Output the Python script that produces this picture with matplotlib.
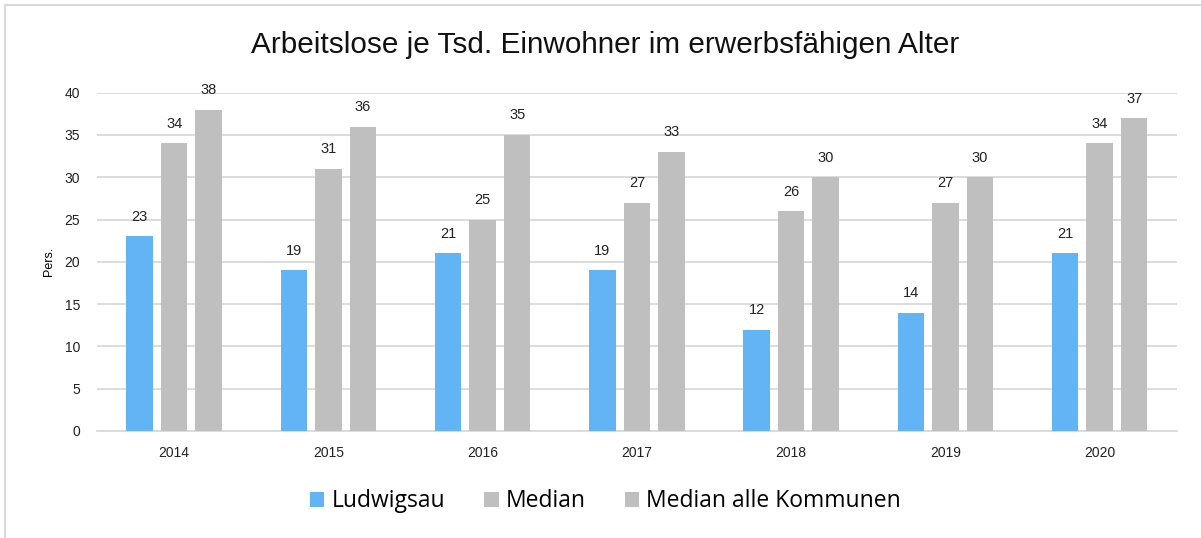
import numpy as np
import matplotlib.pyplot as plt
from matplotlib.patches import Rectangle

years = ["2014", "2015", "2016", "2017", "2018", "2019", "2020"]
ludwigsau = [23, 19, 21, 19, 12, 14, 21]
median = [34, 31, 25, 27, 26, 27, 34]
median_alle = [38, 36, 35, 33, 30, 30, 37]

plt.rcParams['font.family'] = ['Liberation Sans', 'DejaVu Sans']

fig = plt.figure(figsize=(12.01, 5.38), dpi=100)
ax = fig.add_axes([0.0808, 0.1989, 0.899, 0.6288])

# outer frame like the spreadsheet chart border
fig.patches.append(Rectangle((5 / 1201, -0.1), 1.2, 1 - 5 / 538 + 0.1, transform=fig.transFigure,
                             fill=False, edgecolor="#D9D9D9", linewidth=1.5))

x = np.arange(len(years))
w = 0.172
off = 0.224
series = [(ludwigsau, "Ludwigsau", "#63B4F5"),
          (median, "Median", "#BFBFBF"),
          (median_alle, "Median alle Kommunen", "#BFBFBF")]

for i, (vals, name, col) in enumerate(series):
    bars = ax.bar(x + (i - 1) * off, vals, w, color=col, label=name, zorder=3)
    for b, v in zip(bars, vals):
        ax.annotate(str(v), (b.get_x() + b.get_width() / 2, v), xytext=(0, 9),
                    textcoords="offset points", ha="center", va="bottom",
                    fontsize=10.5, color="#222222", annotation_clip=False)

ax.set_xlim(-0.5, 6.5)
ax.set_ylim(0, 40)
ax.set_yticks(range(0, 41, 5))
ax.set_xticks(x)
ax.set_xticklabels(years)
ax.tick_params(axis="both", length=0, labelsize=10, colors="#222222")
ax.tick_params(axis="y", pad=12)
ax.tick_params(axis="x", pad=11)
ax.yaxis.grid(True, color="#D9D9D9", linewidth=1.3, zorder=0)
for s in ["top", "right", "left"]:
    ax.spines[s].set_visible(False)
ax.spines["bottom"].set_color("#D9D9D9")
ax.spines["bottom"].set_linewidth(1.3)
ax.set_ylabel("Pers.", fontsize=9, labelpad=7)

fig.text(0.504, 0.917, "Arbeitslose je Tsd. Einwohner im erwerbsfähigen Alter",
         ha="center", va="center", fontsize=21.4, color="#111111")

handles, labels = ax.get_legend_handles_labels()
leg = fig.legend(handles, labels, loc="center", bbox_to_anchor=(0.504, 0.068), ncol=3,
                 frameon=False, prop={"family": ["Open Sans", "DejaVu Sans"], "size": 16.5},
                 handlelength=0.65, handleheight=0.65, handletextpad=0.3, columnspacing=1.7)

fig.savefig("out.png", dpi=100)
